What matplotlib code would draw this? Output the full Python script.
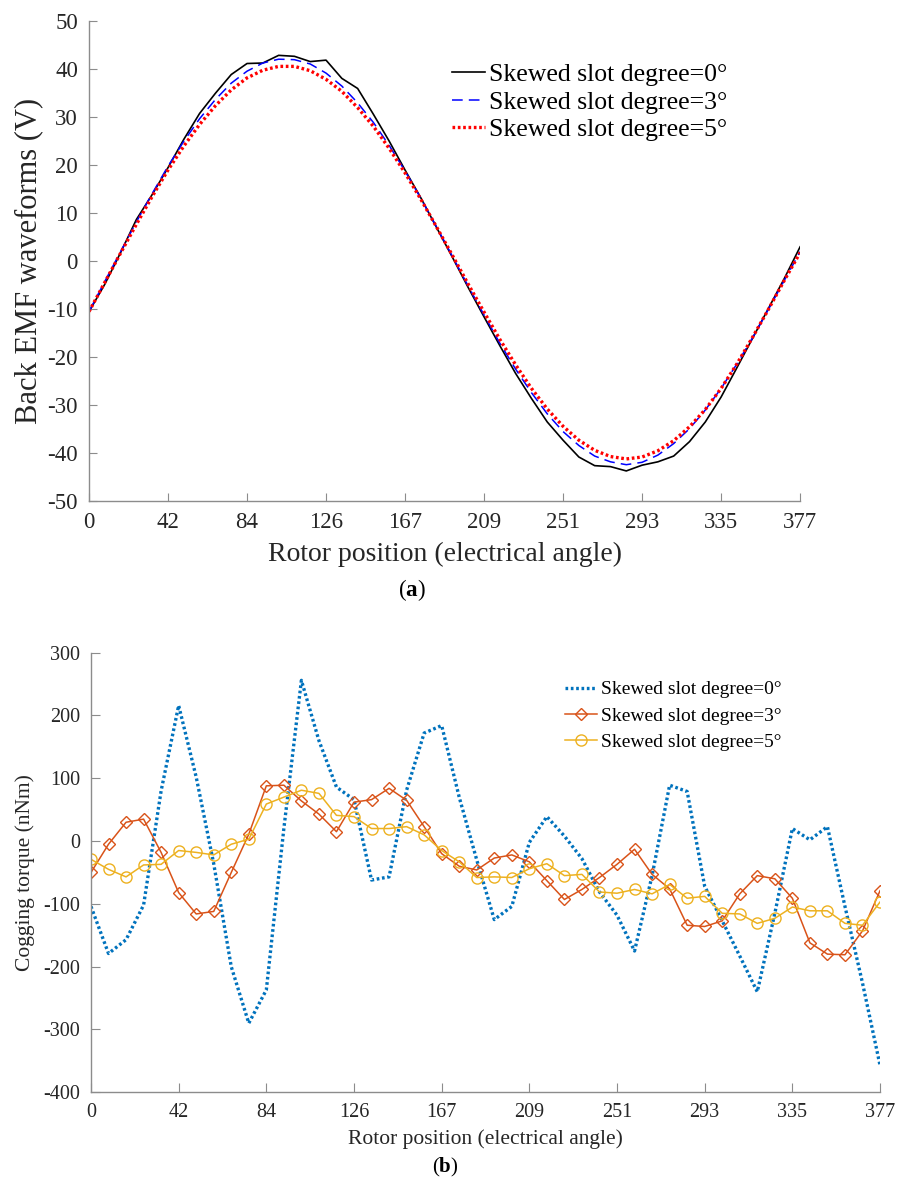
import matplotlib.pyplot as plt
import numpy as np

plt.rcParams['font.family'] = ['Liberation Serif', 'DejaVu Serif']
plt.rcParams['mathtext.fontset'] = 'custom'
plt.rcParams['mathtext.rm'] = 'Liberation Serif'
plt.rcParams['mathtext.bf'] = 'Liberation Serif:bold'
plt.rcParams['axes.unicode_minus'] = False

# rotor position grid (46 samples over 0..377) and tick labels
pos_start, pos_end, n_pos = 0, 377, 46
tick_labels = ['0', '42', '84', '126', '167', '209', '251', '293', '335', '377']
series_names = ['Skewed slot degree=0°', 'Skewed slot degree=3°', 'Skewed slot degree=5°']

# (a) back EMF, V
emf_0 = [-10.5, -4.8, 1.8, 8.7, 13.9, 19.5, 25.4, 30.8, 35.0, 38.9,
         41.2, 41.3, 42.9, 42.7, 41.6, 41.9, 38.1, 36.0, 30.6, 25.0,
         19.0, 13.2, 7.0, 0.8, -5.5, -11.6, -17.6, -23.4, -28.6, -33.5,
         -37.3, -40.8, -42.6, -42.8, -43.7, -42.5, -41.8, -40.6, -37.6, -33.5,
         -28.3, -22.2, -16.0, -9.8, -3.6, 3.0]
emf_3 = [-10.5, -4.2, 2.0, 8.2, 14.1, 19.8, 25.0, 29.7, 33.7, 37.1,
         39.6, 41.3, 42.1, 42.0, 41.1, 39.2, 36.5, 33.0, 28.9, 24.1,
         18.8, 13.1, 7.1, 1.0, -5.2, -11.2, -17.1, -22.5, -27.4, -31.8,
         -35.5, -38.4, -40.6, -41.8, -42.4, -41.9, -40.4, -38.0, -34.9, -31.0,
         -26.5, -21.4, -15.9, -10.0, -4.0, 2.0]
emf_5 = [-10.5, -4.4, 1.7, 7.7, 13.5, 19.0, 24.0, 28.5, 32.4, 35.7,
         38.2, 39.8, 40.6, 40.6, 39.7, 37.9, 35.4, 32.0, 28.1, 23.5,
         18.4, 12.9, 7.1, 1.2, -4.8, -10.6, -16.3, -21.6, -26.5, -30.8,
         -34.4, -37.3, -39.4, -40.7, -41.2, -40.8, -39.5, -37.4, -34.5, -30.9,
         -26.5, -21.4, -15.8, -10.0, -4.0, 1.8]

# (b) cogging torque, nNm
cog_0 = [-104, -179, -157, -102, 80, 216, 102, -36, -200, -290,
         -237, 20, 256, 160, 86, 66, -62, -57, 81, 172,
         184, 70, -30, -125, -104, -2, 39, 8, -28, -81,
         -118, -175, -55, 89, 79, -72, -127, -183, -240, -115,
         20, 2, 23, -104, -226, -357]
cog_3 = [-50, -5, 30, 35, -18, -82, -116, -112, -50, 11,
         88, 89, 64, 43, 15, 62, 66, 84, 65, 23,
         -20, -40, -46, -27, -22, -33, -63, -93, -77, -58,
         -37, -13, -53, -76, -134, -136, -127, -84, -55, -60,
         -91, -162, -180, -181, -143, -79]
cog_5 = [-29, -45, -57, -38, -37, -15, -18, -22, -5, 3,
         59, 70, 81, 76, 41, 39, 20, 20, 23, 10,
         -15, -33, -58, -57, -58, -44, -36, -55, -53, -81,
         -83, -77, -84, -69, -91, -88, -115, -116, -131, -123,
         -105, -111, -111, -131, -134, -97]

x = np.linspace(pos_start, pos_end, n_pos)
xticks = np.linspace(pos_start, pos_end, len(tick_labels))

fig = plt.figure(figsize=(8.99, 11.82), dpi=100)
spine_col = '#8c8c8c'


def style_axes(ax, tick_size, tick_len):
    for side in ['top', 'right']:
        ax.spines[side].set_visible(False)
    for side in ['left', 'bottom']:
        ax.spines[side].set_color(spine_col)
        ax.spines[side].set_linewidth(1.0)
    ax.tick_params(direction='in', length=tick_len, width=0.8, color=spine_col,
                   labelsize=tick_size, labelcolor='#262626', pad=8)
    ax.set_xticks(xticks)
    ax.set_xticklabels(tick_labels)
    ax.set_xlim(pos_start, pos_end)


# ---- (a) ----
ax1 = fig.add_axes([0.099, 0.576, 0.791, 0.406])
ax1.plot(x, emf_0, color='black', lw=1.2, label=series_names[0])
ax1.plot(x, emf_3, color='#0000ff', lw=1.1, ls=(0, (7, 4)), label=series_names[1])
ax1.plot(x, emf_5, color='#ff0000', lw=2.4, ls=(0, (0.8, 0.8)), label=series_names[2])
style_axes(ax1, 16.5, 6)
ax1.set_ylim(-50, 50)
ax1.set_yticks(np.arange(-50, 51, 10))
ax1.set_xlabel('Rotor position (electrical angle)', fontsize=20, color='#262626', labelpad=6)
ax1.set_ylabel('Back EMF waveforms (V)', fontsize=22, color='#262626', labelpad=3)
ax1.legend(loc='upper left', bbox_to_anchor=(0.4956, 0.934), frameon=False, fontsize=18.5,
           handlelength=1.3, handletextpad=0.15, labelspacing=0.18, borderaxespad=0)
fig.text(0.458, 0.501, r'($\mathbf{a}$)', fontsize=16.5, ha='center', va='center')

# ---- (b) ----
ax2 = fig.add_axes([0.1012, 0.0759, 0.8777, 0.3719])
ax2.plot(x, cog_0, color='#0072bd', lw=2.4, ls=(0, (0.8, 0.8)), label=series_names[0])
ax2.plot(x, cog_3, color='#d95319', lw=1.1, marker='D', ms=6.5, mfc='none', mew=1.0,
         label=series_names[1])
ax2.plot(x, cog_5, color='#edb120', lw=1.1, marker='o', ms=8, mfc='none', mew=1.0,
         label=series_names[2])
style_axes(ax2, 14.5, 6.5)
ax2.set_ylim(-400, 300)
ax2.set_yticks(np.arange(-400, 301, 100))
ax2.set_xlabel('Rotor position (electrical angle)', fontsize=15.5, color='#262626', labelpad=5)
ax2.set_ylabel('Cogging torque (nNm)', fontsize=15.5, color='#262626', labelpad=6)
ax2.legend(loc='upper left', bbox_to_anchor=(0.5907, 0.954), frameon=False, fontsize=14,
           handlelength=1.66, handletextpad=0.2, labelspacing=0.45, borderaxespad=0)
fig.text(0.495, 0.0125, r'($\mathbf{b}$)', fontsize=15, ha='center', va='center')

fig.savefig('out.png', dpi=100)
